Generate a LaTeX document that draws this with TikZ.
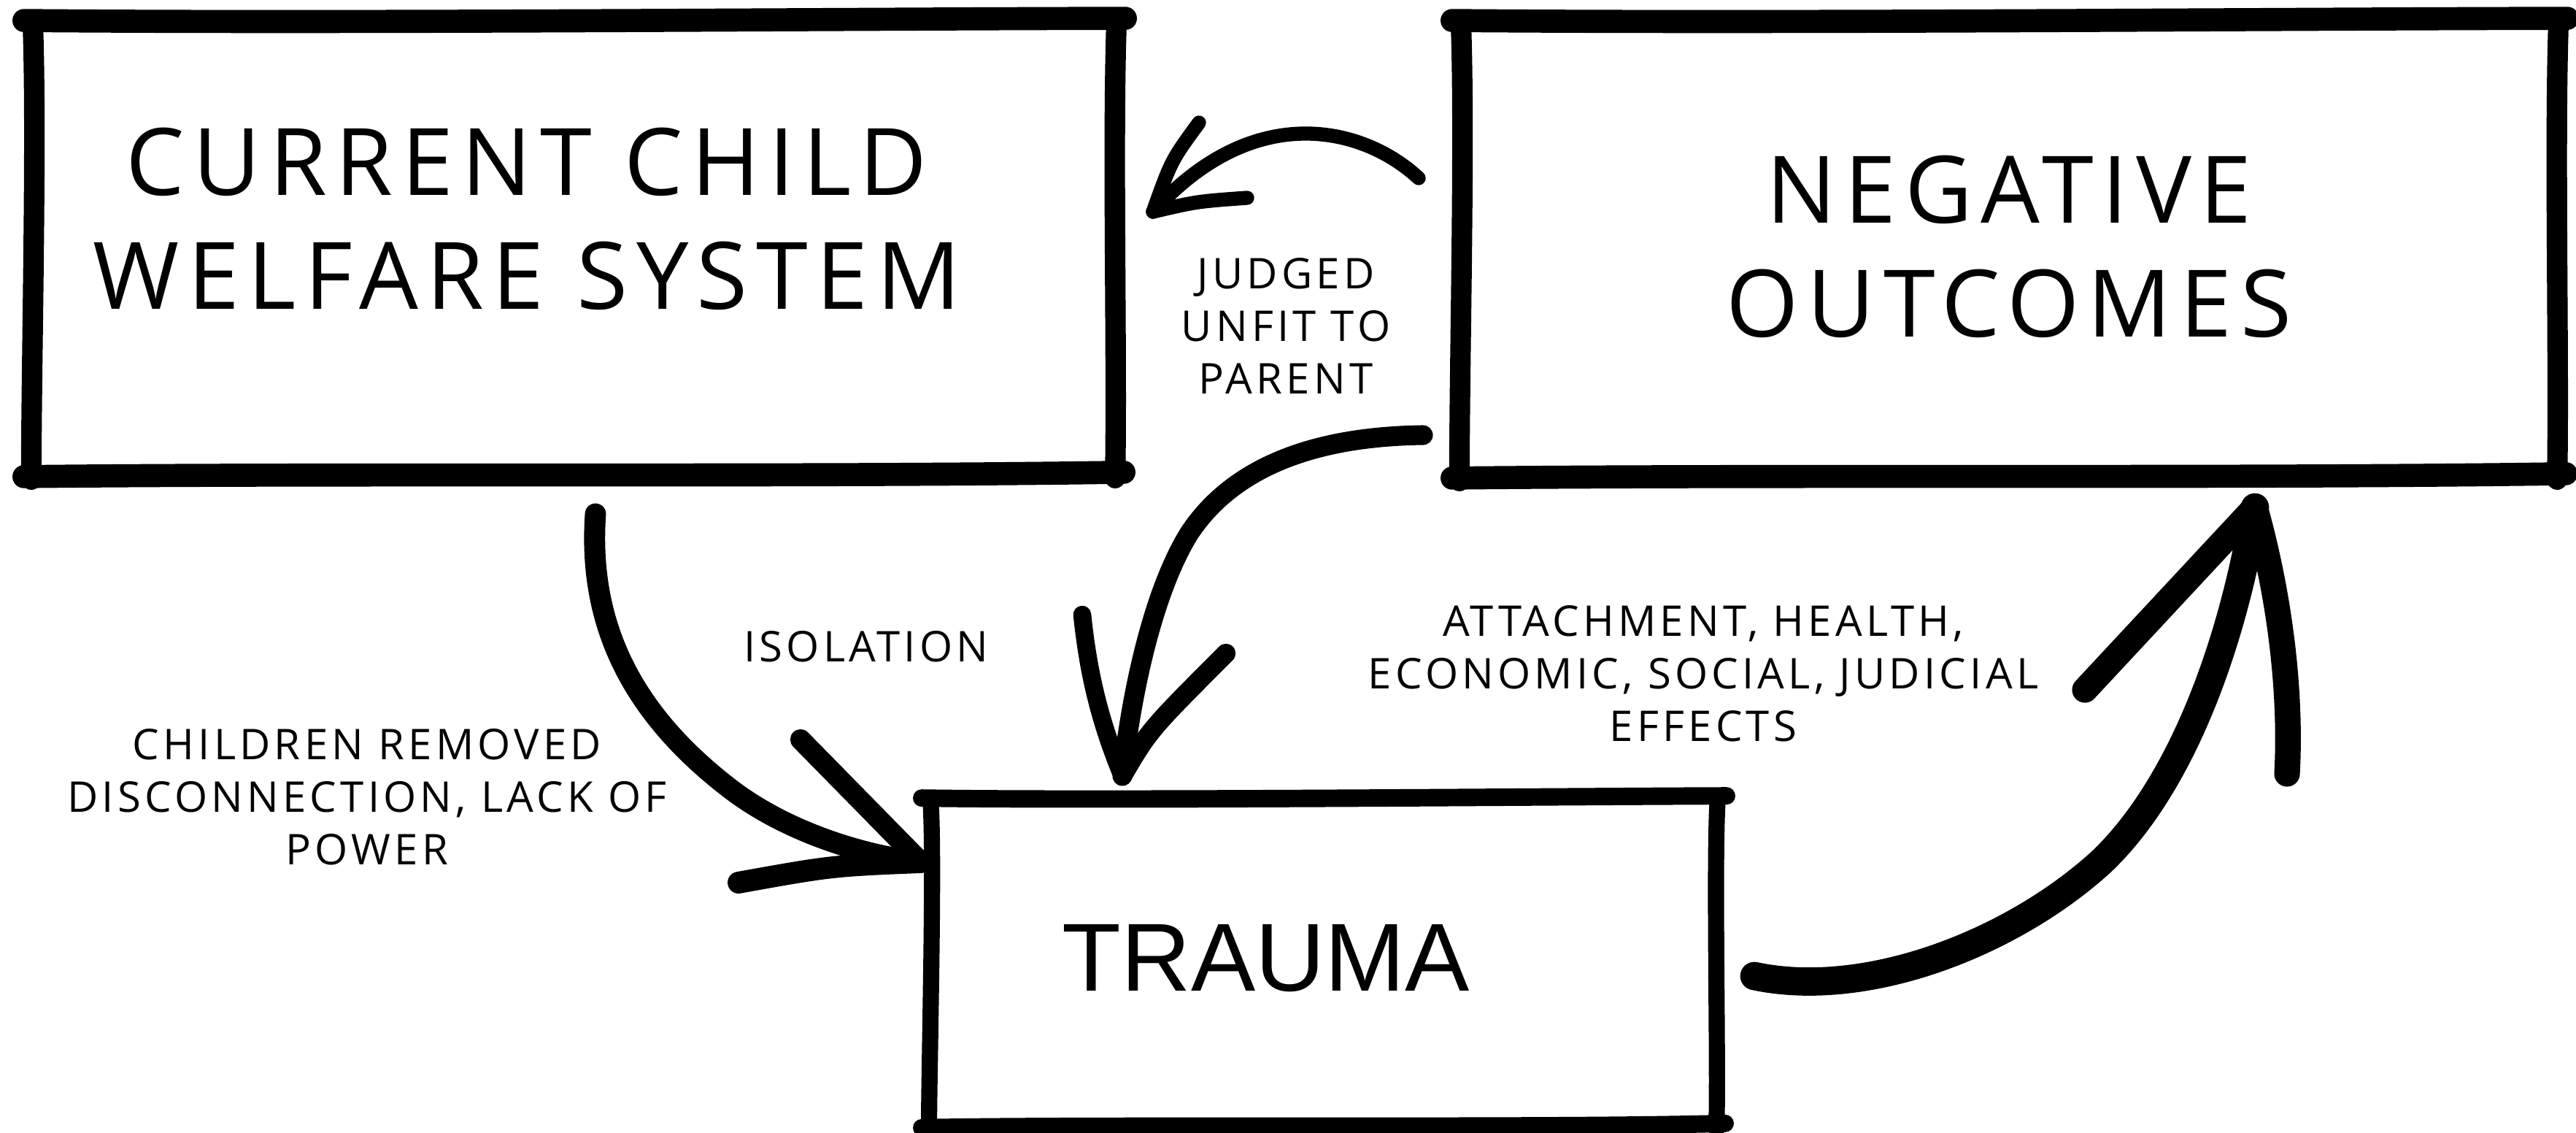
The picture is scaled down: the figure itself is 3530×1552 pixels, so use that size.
\documentclass[tikz,border=0pt]{standalone}
\usepackage{fontspec}
\setmainfont{Open Sans}
\newfontfamily\spaced{Open Sans}[LetterSpace=9]
\newfontfamily\plainsans{Liberation Sans}
\usetikzlibrary{calc}

% hand drawn frame round an empty node: node, top/bottom width, side width
\newcommand{\roughbox}[3]{%
  \draw[line cap=round, line width=#2] ($(#1.north west)+(-14,-1)$) .. controls ($(#1.north)+(-300,3)$) and ($(#1.north)+(300,-3)$) .. ($(#1.north east)+(14,-4)$);
  \draw[line cap=round, line width=#2] ($(#1.south west)+(-14,2)$) .. controls ($(#1.south)+(-300,-3)$) and ($(#1.south)+(300,3)$) .. ($(#1.south east)+(12,-4)$);
  \draw[line cap=round, line width=#3] ($(#1.north west)+(-2,0)$) .. controls ($(#1.west)+(4,-150)$) and ($(#1.west)+(-4,150)$) .. ($(#1.south west)+(-4,6)$);
  \draw[line cap=round, line width=#3] ($(#1.north east)+(2,-2)$) .. controls ($(#1.east)+(-4,-150)$) and ($(#1.east)+(3,150)$) .. ($(#1.south east)+(0,4)$);
}

\begin{document}
\begin{tikzpicture}[x=0.01cm, y=-0.01cm,
  boxnode/.style={rectangle, inner sep=0pt, draw=none},
  bigtext/.style={font=\spaced\fontsize{36.3}{44.4}\selectfont, align=center, inner sep=0pt, anchor=north},
  smalltext/.style={font=\spaced\fontsize{16.5}{20.5}\selectfont, align=center, inner sep=0pt, anchor=north},
  stroke/.style={line width=#1, line cap=round, line join=round}]
\useasboundingbox (0,0) rectangle (3530,1552);

% boxes
\node[boxnode, minimum width=14.79cm, minimum height=6.2cm] (cws) at (787.5,340) {};
\node[boxnode, minimum width=14.98cm, minimum height=6.22cm] (neg) at (2754,341) {};
\node[boxnode, minimum width=10.73cm, minimum height=4.47cm] (trauma) at (1814.5,1318.5) {};
\roughbox{cws}{9pt}{8pt}
\roughbox{neg}{9pt}{8pt}
\roughbox{trauma}{6.8pt}{6.3pt}

\node[bigtext] (cwsText) at (722,174) {CURRENT CHILD\\WELFARE SYSTEM};
\node[bigtext] (negText) at (2753,212) {NEGATIVE\\OUTCOMES};
\node[inner sep=0pt, anchor=north, font=\plainsans\fontsize{37.6}{45}\selectfont] (traumaText) at (1735,1266) {TRAUMA};

% labels
\node[smalltext] (judgedLbl) at (1762,353) {JUDGED\\UNFIT TO\\PARENT};
\node[smalltext] (isolationLbl) at (1187,864) {ISOLATION};
\node[smalltext] (removedLbl) at (503,998) {CHILDREN REMOVED\\DISCONNECTION, LACK OF\\POWER};
\node[smalltext] (effectsLbl) at (2334,829) {ATTACHMENT, HEALTH,\\ECONOMIC, SOCIAL, JUDICIAL\\EFFECTS};

% arrow ends
\coordinate (tailA) at (1944,244);
\coordinate (tipA) at (1580,290);
\coordinate (barbA1) at (1643,168);
\coordinate (barbA2) at (1709,271);
\coordinate (tailB) at (1950,596);
\coordinate (tipB) at (1538,1063);
\coordinate (barbB1) at (1483,842);
\coordinate (barbB2) at (1680,895);
\coordinate (tailC) at (816,704);
\coordinate (tipC) at (1262,1181);
\coordinate (barbC1) at (1097,1013);
\coordinate (barbC2) at (1012,1209);
\coordinate (tailD) at (2404,1337);
\coordinate (tipD) at (3090,695);
\coordinate (barbD1) at (2857,945);
\coordinate (barbD2) at (3134,1060);

% negative outcomes -> child welfare system
\draw[stroke=5.5pt] (tailA) .. controls (1870,175) and (1720,135) .. (tipA);
\draw[stroke=5.5pt] (barbA1) .. controls (1605,220) .. (tipA);
\draw[stroke=5.5pt] (tipA) .. controls (1640,276) .. (barbA2);
% negative outcomes -> trauma
\draw[stroke=7.7pt] (tailB) .. controls (1800,598) and (1690,640) .. (1630,730) .. controls (1580,810) and (1550,950) .. (tipB);
\draw[stroke=7pt] (barbB1) .. controls (1492,930) and (1510,995) .. (tipB);
\draw[stroke=7.5pt] (tipB) .. controls (1575,1000) .. (barbB2);
% child welfare system -> trauma
\draw[stroke=8.2pt] (tailC) .. controls (805,860) and (870,980) .. (1000,1080) .. controls (1070,1134) and (1170,1170) .. (tipC);
\draw[stroke=8pt] (barbC1) -- (tipC);
\draw[stroke=8.5pt] (tipC) .. controls (1140,1186) .. (barbC2);
% trauma -> negative outcomes
\draw[stroke=11pt] (tailD) .. controls (2560,1370) and (2760,1290) .. (2880,1180) .. controls (2990,1075) and (3060,880) .. (tipD);
\draw[stroke=10pt] (barbD1) -- (tipD);
\draw[stroke=10pt] (tipD) .. controls (3125,820) and (3140,950) .. (barbD2);
\end{tikzpicture}
\end{document}
